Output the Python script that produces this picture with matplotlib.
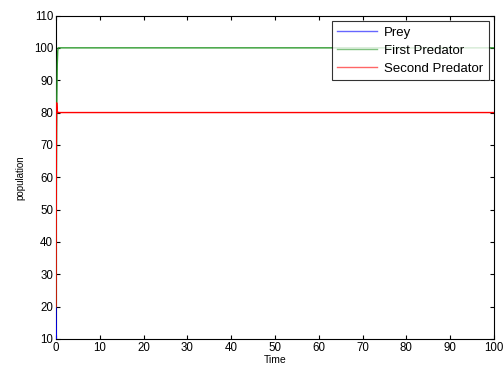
import matplotlib
matplotlib.use("Agg")
import matplotlib.pyplot as plt

plt.rcParams['font.family'] = ['Liberation Sans', 'DejaVu Sans']

time = [0.0, 0.05, 0.1, 0.15, 0.2, 0.3, 0.4, 0.5, 1.0, 100.0]
prey = [20.0, 12.0, 6.0, 3.0, 1.0, 0.5, 0.2, 0.0, 0.0, 0.0]
first_predator = [20.0, 40.0, 60.0, 75.0, 85.0, 95.0, 99.0, 100.0, 100.0, 100.0]
second_predator = [20.0, 50.0, 75.0, 83.0, 82.0, 80.5, 80.1, 80.0, 80.0, 80.0]

xticks = [0, 10, 20, 30, 40, 50, 60, 70, 80, 90, 100]
yticks = [10, 20, 30, 40, 50, 60, 70, 80, 90, 100, 110]

fig = plt.figure(figsize=(5.03, 3.71), dpi=100)
ax = fig.add_axes([0.1113, 0.0863, 0.8708, 0.8719])

ax.plot(time, prey, color='#0000ff', lw=1.0, label='Prey', zorder=3)
ax.plot(time, first_predator, color='#2e9a2e', lw=1.0, label='First Predator', zorder=3)
ax.plot(time, second_predator, color='#ff0000', lw=1.0, label='Second Predator', zorder=3)

ax.set_xlim(0, 100)
ax.set_ylim(10, 110)
ax.set_xticks(xticks)
ax.set_yticks(yticks)
ax.tick_params(direction='in', top=True, right=True, labelsize=8.3, length=3, width=0.8, pad=2)
for s in ax.spines.values():
    s.set_linewidth(0.8)
ax.set_xlabel('Time', fontsize=7.5, labelpad=1)
ax.set_ylabel('population', fontsize=7, labelpad=6)

leg = ax.legend(loc='upper right', fontsize=9.5, frameon=True, fancybox=False,
                edgecolor='black', borderpad=0.45, handlelength=3.0,
                handletextpad=0.5, labelspacing=0.42, borderaxespad=0.4)
leg.set_zorder(5)
leg.get_frame().set_linewidth(0.8)
for line in leg.get_lines():
    line.set_alpha(0.6)

fig.savefig('out.png', dpi=100)
